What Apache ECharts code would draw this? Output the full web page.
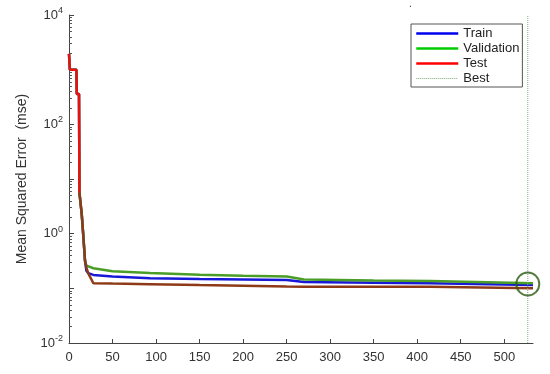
<!DOCTYPE html>
<html>
<head>
<meta charset="utf-8">
<script src="https://cdn.jsdelivr.net/npm/echarts@6/dist/echarts.min.js"></script>
<style>
  html, body { margin: 0; padding: 0; background: #fff; }
  #chart { width: 550px; height: 374px; }
</style>
</head>
<body>
<div id="chart"></div>
<script>
const epochs = [0, 1, 8.5, 9, 11.5, 12, 14.6, 16.5, 18.4, 20, 22, 28, 50, 93, 150, 200, 250, 270, 350, 415, 533];
const trainMse = [1950, 1000, 1000, 360, 360, 5.6, 2.3, 0.88, 0.32, 0.21, 0.19, 0.176, 0.165, 0.153, 0.148, 0.145, 0.142, 0.13, 0.127, 0.124, 0.115];
const valMse = [1950, 1000, 1000, 360, 360, 5.6, 2.3, 0.88, 0.32, 0.26, 0.24, 0.233, 0.205, 0.19, 0.178, 0.17, 0.165, 0.145, 0.139, 0.136, 0.124];
const testMse = [1950, 1000, 1000, 360, 360, 5.6, 2.3, 0.88, 0.32, 0.24, 0.19, 0.124, 0.122, 0.119, 0.115, 0.112, 0.108, 0.107, 0.107, 0.107, 0.100];
const bestEpoch = 527;
const bestValue = 0.12;
const yRange = [0.01, 10000];
const yLabels = [0.01, 1, 100, 10000];
const maxEpoch = 533;
// the test curve turns from red to dark brown where it meets the others
const colorSwitch = 5; // index into epochs (epoch 12)

// log axis minor ticks (2..9 in every decade)
const minorTicks = [];
for (let d = -2; d < 4; d++) {
  for (let m = 2; m <= 9; m++) minorTicks.push(m * Math.pow(10, d));
}

const pairs = (ys) => epochs.map((e, i) => [e, ys[i]]);

let chart = echarts.init(document.getElementById("chart"));
let option = {
  animation: false,
  textStyle: { fontFamily: "Liberation Sans, Arial, sans-serif" },
  grid: { left: 69, right: 17, top: 15, bottom: 31 },
  legend: {
    orient: "vertical",
    left: 411,
    top: 24,
    padding: [3, 3, 2, 4],
    itemGap: 2,
    itemWidth: 42,
    itemHeight: 14,
    borderColor: "#555",
    borderWidth: 1,
    backgroundColor: "#fff",
    textStyle: { fontSize: 13, color: "#222" },
    data: [
      { name: "Train", itemStyle: { opacity: 0 }, lineStyle: { color: "#0000ee", width: 2.5 } },
      { name: "Validation", itemStyle: { opacity: 0 }, lineStyle: { color: "#00cc00", width: 2.5 } },
      { name: "Test", itemStyle: { opacity: 0 }, lineStyle: { color: "#ff0000", width: 2.5 } },
      { name: "Best", itemStyle: { opacity: 0 }, lineStyle: { color: "#7ab07a", width: 1, type: "dotted" } },
    ],
  },
  xAxis: {
    type: "value",
    min: 0,
    max: maxEpoch,
    interval: 50,
    axisLine: { show: true, lineStyle: { color: "#444" } },
    axisTick: { show: true, inside: true, length: 4, lineStyle: { color: "#444" } },
    axisLabel: { color: "#333", fontSize: 13, margin: 8, showMaxLabel: false },
    splitLine: { show: false },
  },
  yAxis: [
    {
      type: "log",
      logBase: 10,
      min: yRange[0],
      max: yRange[1],
      splitNumber: 6,
      name: "Mean Squared Error  (mse)",
      nameLocation: "middle",
      nameGap: 36,
      nameTextStyle: { fontSize: 14, color: "#333" },
      axisLine: { show: true, lineStyle: { color: "#444" } },
      axisTick: { show: true, inside: true, length: 5, lineStyle: { color: "#444" } },
      axisLabel: {
        color: "#333",
        fontSize: 13,
        margin: 6,
        customValues: yLabels,
        formatter: (v) => "10{s|" + Math.round(Math.log10(v)) + "}",
        rich: { s: { fontSize: 9, verticalAlign: "top", padding: [0, 0, 9, 0], color: "#333" } },
      },
      splitLine: { show: false },
    },
    {
      // second copy of the log axis, only to draw the minor ticks
      type: "log",
      logBase: 10,
      min: yRange[0],
      max: yRange[1],
      position: "left",
      offset: 0,
      axisLine: { show: false },
      axisTick: { show: true, inside: true, length: 3, customValues: minorTicks, lineStyle: { color: "#555" } },
      axisLabel: { show: false },
      splitLine: { show: false },
    },
  ],
  series: [
    {
      name: "Train",
      type: "line",
      symbol: "none",
      data: pairs(trainMse),
      lineStyle: { color: "#1818d8", width: 2.5 },
      itemStyle: { color: "#0000ee" },
    },
    {
      name: "Validation",
      type: "line",
      symbol: "none",
      data: pairs(valMse),
      lineStyle: { color: "#4a9e28", width: 2.5 },
      itemStyle: { color: "#00cc00" },
    },
    {
      name: "Test",
      type: "line",
      symbol: "none",
      data: pairs(testMse).slice(colorSwitch),
      lineStyle: { color: "#8e3a16", width: 2.5 },
      itemStyle: { color: "#ff0000" },
    },
    {
      name: "Test",
      type: "line",
      symbol: "none",
      data: pairs(testMse).slice(0, colorSwitch + 1),
      lineStyle: { color: "#e81010", width: 2.5 },
      itemStyle: { color: "#ff0000" },
    },
    {
      name: "Best",
      type: "line",
      symbol: "none",
      data: [[bestEpoch, yRange[0]], [bestEpoch, yRange[1]]],
      lineStyle: { color: "#7ab07a", width: 1, type: "dotted" },
      itemStyle: { color: "#7ab07a" },
    },
    {
      name: "bestCircle",
      type: "scatter",
      symbol: "circle",
      symbolSize: 23,
      data: [[bestEpoch, bestValue]],
      itemStyle: { color: "rgba(0,0,0,0)", borderColor: "#2a5a12", borderWidth: 2 },
      z: 5,
    },
  ],
  graphic: [{ type: "text", left: 409, top: -1, style: { text: ".", fontSize: 10, fill: "#333" } }],
};
chart.setOption(option);
</script>
</body>
</html>
